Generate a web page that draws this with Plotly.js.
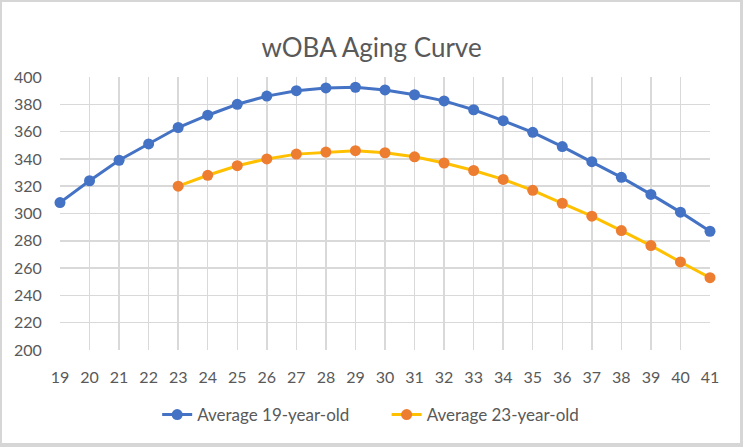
<!DOCTYPE html>
<html>
<head>
<meta charset="utf-8">
<script src="https://cdn.plot.ly/plotly-3.0.1.min.js"></script>
<style>
  html, body { margin: 0; padding: 0; background: #fff; }
  #frame { width: 743px; height: 447px; box-sizing: border-box;
           border-style: solid; border-color: #d6d6d6;
           border-width: 2px 3px 4px 2px; position: relative; overflow: hidden; }
  #chart { position: absolute; left: -2px; top: -2px; width: 743px; height: 447px; }
</style>
</head>
<body>
<div id="frame"><div id="chart"></div></div>
<script>
// Ages on the x axis
const ages = [19, 20, 21, 22, 23, 24, 25, 26, 27, 28, 29, 30, 31, 32, 33, 34, 35, 36, 37, 38, 39, 40, 41];

// Average wOBA (x1000) for a player debuting at 19
const avg19 = [308, 324, 339, 351, 363, 372, 380, 386, 390, 392, 392.5, 390.5, 387, 382.5, 376, 368, 359.5, 349, 338, 326.5, 314, 301, 287];

// Average wOBA (x1000) for a player debuting at 23
const ages23 = [23, 24, 25, 26, 27, 28, 29, 30, 31, 32, 33, 34, 35, 36, 37, 38, 39, 40, 41];
const avg23 = [320, 328, 335, 340, 343.5, 345, 346, 344.5, 341.5, 337, 331.5, 325, 317, 307.5, 298, 287.5, 276.5, 264.5, 253];

const yTicks = [200, 220, 240, 260, 280, 300, 320, 340, 360, 380, 400];

const font = 'Lato, "Open Sans", sans-serif';
const textColor = '#595959';
const gridColor = '#d9d9d9';

const traces = [
  {
    x: ages, y: avg19, name: 'Average 19-year-old', type: 'scatter', mode: 'lines+markers',
    cliponaxis: false, legend: 'legend',
    line: { color: '#4472c4', width: 3 },
    marker: { color: '#4472c4', size: 11 }
  },
  {
    x: ages23, y: avg23, name: 'Average 23-year-old', type: 'scatter', mode: 'lines+markers',
    cliponaxis: false, legend: 'legend2',
    line: { color: '#ffc000', width: 3 },
    marker: { color: '#ed7d31', size: 11 }
  }
];

// One legend box per series so the two entries sit where they belong
const legendStyle = {
  orientation: 'h', yanchor: 'middle', y: -0.238, xanchor: 'left',
  font: { family: font, size: 17, color: textColor },
  bgcolor: 'rgba(0,0,0,0)'
};

const layout = {
  width: 743, height: 447,
  paper_bgcolor: '#ffffff', plot_bgcolor: '#ffffff',
  margin: { l: 60, r: 33, t: 77, b: 97 },
  font: { family: font, color: textColor, size: 16 },
  title: { text: 'wOBA Aging Curve', font: { family: font, size: 26, color: textColor },
           x: 0.5, xanchor: 'center', y: 0.893, yanchor: 'middle' },
  xaxis: {
    range: [19, 41], tickvals: ages, ticktext: ages.map(String),
    showgrid: true, gridcolor: gridColor, gridwidth: 1.5,
    zeroline: false, showline: false,
    ticks: 'outside', ticklen: 13, tickcolor: 'rgba(0,0,0,0)',
    tickfont: { family: font, size: 16, color: textColor }
  },
  yaxis: {
    range: [200, 400], tickvals: yTicks,
    showgrid: true, gridcolor: gridColor, gridwidth: 1.5,
    zeroline: false, showline: false,
    ticks: 'outside', ticklen: 14, tickcolor: 'rgba(0,0,0,0)',
    tickfont: { family: font, size: 16, color: textColor }
  },
  legend: Object.assign({}, legendStyle, { x: 0.1495 }),
  legend2: Object.assign({}, legendStyle, { x: 0.5025 }),
  showlegend: true
};

Plotly.newPlot('chart', traces, layout, { displayModeBar: false, staticPlot: true });
</script>
</body>
</html>
